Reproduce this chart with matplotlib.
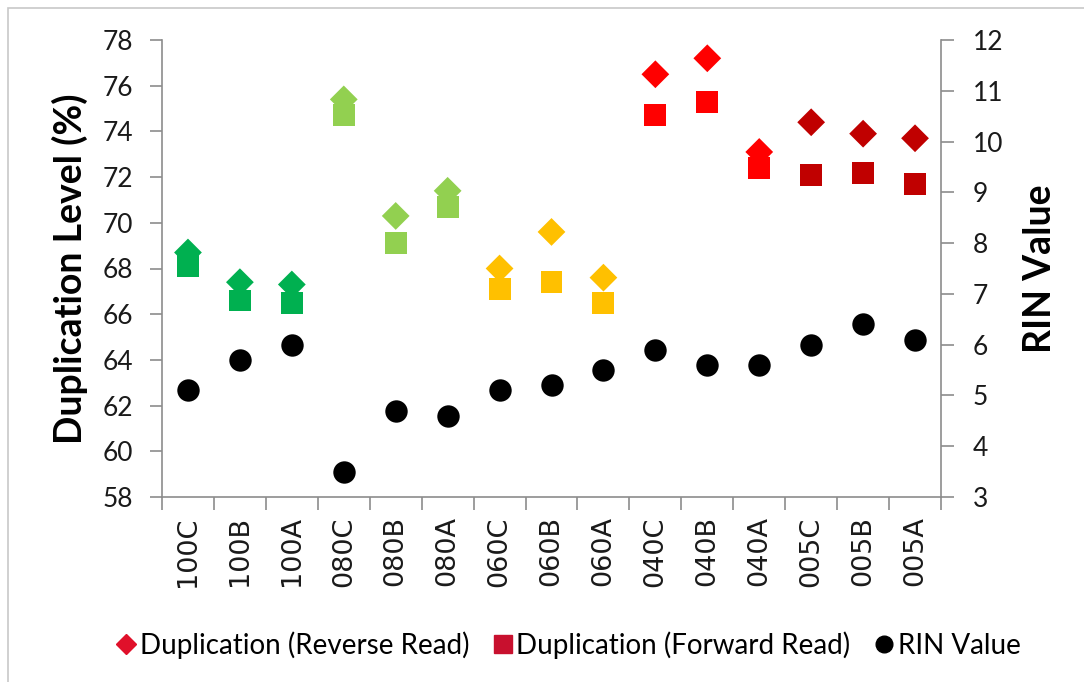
import matplotlib
matplotlib.use("Agg")
import matplotlib.pyplot as plt
from matplotlib.lines import Line2D
from matplotlib.patches import Rectangle
import numpy as np

samples = ["100C", "100B", "100A", "080C", "080B", "080A", "060C", "060B", "060A",
           "040C", "040B", "040A", "005C", "005B", "005A"]
dup_reverse = [68.7, 67.4, 67.3, 75.4, 70.3, 71.4, 68.0, 69.6, 67.6,
               76.5, 77.2, 73.1, 74.4, 73.9, 73.7]
dup_forward = [68.1, 66.6, 66.5, 74.7, 69.1, 70.7, 67.1, 67.4, 66.5,
               74.7, 75.3, 72.4, 72.1, 72.2, 71.7]
rin_values = [5.1, 5.7, 6.0, 3.5, 4.7, 4.6, 5.1, 5.2, 5.5,
              5.9, 5.6, 5.6, 6.0, 6.4, 6.1]

# one colour per concentration group, three samples each
group_colors = ["#00B050", "#92D050", "#FFC000", "#FF0000", "#C00000"]
point_colors = [c for c in group_colors for _ in range(3)]

fig = plt.figure(figsize=(10.84, 6.82), dpi=100)
fig.patch.set_facecolor("white")
fig.patches.append(Rectangle((8 / 1084, -0.1), 1.2, 1.1 - 8 / 682,
                             transform=fig.transFigure, fill=False,
                             edgecolor="#c8c8c8", linewidth=1.2))

ax = fig.add_axes([162 / 1084, 1 - 497 / 682, (941 - 162) / 1084, (497 - 40) / 682])
ax2 = ax.twinx()

x = np.arange(len(samples))
ax.scatter(x, dup_reverse, marker="D", s=200, c=point_colors, linewidths=0, zorder=3)
ax.scatter(x, dup_forward, marker="s", s=250, c=point_colors, linewidths=0, zorder=4)
ax2.scatter(x, rin_values, marker="o", s=260, c="black", linewidths=0, zorder=5)

ax.set_xlim(-0.5, len(samples) - 0.5)
ax.set_ylim(58, 78)
ax.set_yticks(np.arange(58, 79, 2))
ax2.set_ylim(3, 12)
ax2.set_yticks(np.arange(3, 13, 1))

tick_font = dict(family="Lato", size=19, color="#1a1a1a")
ax.set_yticklabels([str(v) for v in range(58, 79, 2)], fontdict=tick_font)
ax2.set_yticklabels([str(v) for v in range(3, 13)], fontdict=tick_font)

# category boundaries get the tick marks, centres get the labels
ax.set_xticks(np.arange(-0.5, len(samples), 1))
ax.set_xticklabels([])
ax.set_xticks(x, minor=True)
ax.set_xticklabels(samples, minor=True, rotation=90, fontsize=19.5,
                   family="DejaVu Sans", color="#1a1a1a")
ax.tick_params(axis="x", which="minor", length=0, pad=14)
ax.tick_params(axis="x", which="major", length=9, color="#8c8c8c", width=1.2)
ax.tick_params(axis="y", length=9, color="#8c8c8c", width=1.2, pad=12)
ax2.tick_params(axis="y", length=9, color="#8c8c8c", width=1.2, pad=14)

for a in (ax, ax2):
    a.spines["top"].set_visible(False)
    for side in ("left", "right", "bottom"):
        a.spines[side].set_color("#8c8c8c")
        a.spines[side].set_linewidth(1.2)
ax.spines["right"].set_visible(False)
ax2.spines["left"].set_visible(False)
ax2.spines["bottom"].set_visible(False)

ax.set_ylabel("Duplication Level (%)", family="Lato", fontweight="bold",
              fontsize=27, labelpad=10)
ax2.set_ylabel("RIN Value", family="Lato", fontweight="bold",
               fontsize=27, labelpad=14)

handles = [
    Line2D([], [], marker="D", linestyle="none", color="#E0102A", markersize=10),
    Line2D([], [], marker="s", linestyle="none", color="#C8102E", markersize=13),
    Line2D([], [], marker="o", linestyle="none", color="black", markersize=12),
]
labels = ["Duplication (Reverse Read)", "Duplication (Forward Read)", "RIN Value"]
fig.legend(handles, labels, loc="center", bbox_to_anchor=(0.525, 1 - 645 / 682),
           ncol=3, frameon=False, handlelength=0.6, handletextpad=0.2,
           columnspacing=0.9, prop={"family": "Lato", "size": 20})

fig.savefig("out.png", dpi=100, facecolor="white")
